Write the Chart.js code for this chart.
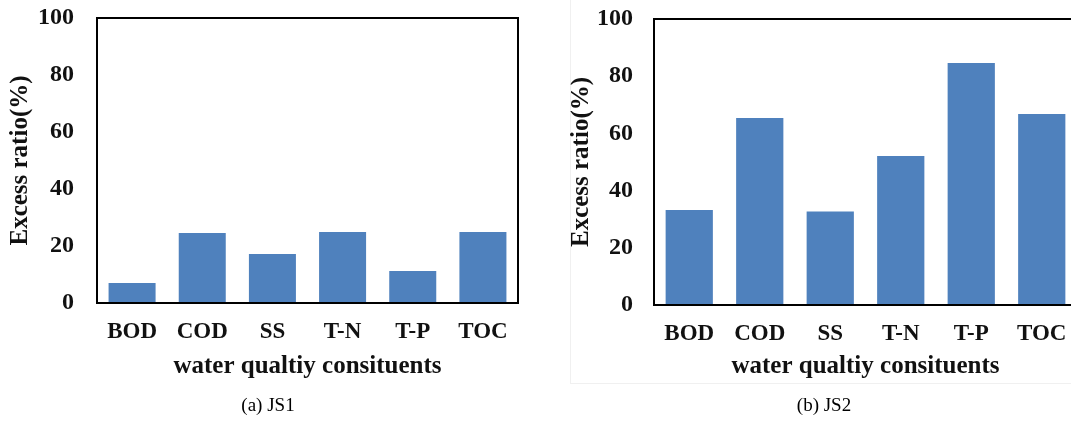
<!DOCTYPE html>
<html>
<head>
<meta charset="utf-8">
<script src="https://cdn.jsdelivr.net/npm/chart.js@4.4.0/dist/chart.umd.min.js"></script>
<style>
    html, body { margin: 0; padding: 0; background: #fff; overflow: hidden; }
    body { width: 1071px; height: 421px; position: relative; }
    #left { position: absolute; left: 0; top: 0; }
    #right { position: absolute; left: 540px; top: 0; }
    #frame { position: absolute; left: 570px; top: 0; width: 520px; height: 383px;
             border-left: 1px solid #f0f0f0; border-bottom: 1px solid #f0f0f0; }
    .caption { position: absolute; top: 394px; height: 22px; line-height: 22px; text-align: center;
               font-family: 'Liberation Serif', 'Times New Roman', serif; font-size: 19px; color: #000; }
    #capA { left: 68px; width: 400px; }
    #capB { left: 624px; width: 400px; }
</style>
</head>
<body>
<div id="frame"></div>
<canvas id="left" width="540" height="421"></canvas>
<canvas id="right" width="560" height="421"></canvas>
<div class="caption" id="capA">(a) JS1</div>
<div class="caption" id="capB">(b) JS2</div>
<script>
// Données
var constituents = ['BOD', 'COD', 'SS', 'T-N', 'T-P', 'TOC'];
var js1Ratio = [7.0, 24.6, 17.2, 24.9, 11.2, 24.9];
var js2Ratio = [33.2, 65.4, 32.7, 52.1, 84.6, 66.8];
var yTicks = [0, 20, 40, 60, 80, 100];

var serif = "'Liberation Serif', 'Times New Roman', serif";
var barColor = 'rgb(79, 129, 189)';

// cadre noir autour de la zone de tracé
var frameBox = {
    id: 'frameBox',
    afterDatasetsDraw: function (chart) {
        var a = chart.chartArea;
        var ctx = chart.ctx;
        ctx.save();
        ctx.strokeStyle = '#000';
        ctx.lineWidth = 2;
        ctx.strokeRect(a.left, a.top, a.right - a.left, a.bottom - a.top);
        ctx.restore();
    }
};

function makeChart(id, values, opts) {
    var ctx = document.getElementById(id).getContext('2d');
    return new Chart(ctx, {
        type: 'bar',
        data: {
            labels: constituents,
            datasets: [{
                data: values,
                backgroundColor: barColor,
                borderWidth: 0,
                categoryPercentage: 1.0,
                barPercentage: 0.67
            }]
        },
        options: {
            responsive: false,
            animation: false,
            layout: { padding: opts.padding },
            plugins: {
                legend: { display: false },
                tooltip: { enabled: false }
            },
            scales: {
                x: {
                    grid: { display: false, drawTicks: false },
                    border: { display: false },
                    ticks: { color: '#111', padding: 15, font: { family: serif, size: 23, weight: 'bold' } },
                    title: {
                        display: true,
                        text: 'water qualtiy consituents',
                        color: '#111',
                        font: { family: serif, size: 25, weight: 'bold' },
                        padding: { top: 0, bottom: 13 }
                    },
                    afterFit: function (scale) { scale.height = opts.xHeight; }
                },
                y: {
                    min: 0,
                    max: 100,
                    grid: { display: false, drawTicks: false },
                    border: { display: false },
                    afterBuildTicks: function (scale) {
                        scale.ticks = yTicks.map(function (v) { return { value: v }; });
                    },
                    ticks: { color: '#111', padding: opts.tickPad, font: { family: serif, size: 24, weight: 'bold' } },
                    title: {
                        display: true,
                        text: 'Excess ratio(%)',
                        color: '#111',
                        font: { family: serif, size: 25, weight: 'bold' },
                        padding: { top: 4, bottom: 0 }
                    },
                    afterFit: function (scale) {
                        scale.width = opts.yWidth;
                        scale.paddingTop = 0;
                        scale.paddingBottom = 0;
                    }
                }
            }
        },
        plugins: [frameBox]
    });
}

makeChart('left', js1Ratio, {
    padding: { left: 2, top: 18, right: 22, bottom: 26.8 },
    yWidth: 95,
    xHeight: 91.2,
    tickPad: 23
});

makeChart('right', js2Ratio, {
    padding: { left: 23, top: 19, right: 23, bottom: 26.8 },
    yWidth: 91,
    xHeight: 89.2,
    tickPad: 21
});
</script>
</body>
</html>
